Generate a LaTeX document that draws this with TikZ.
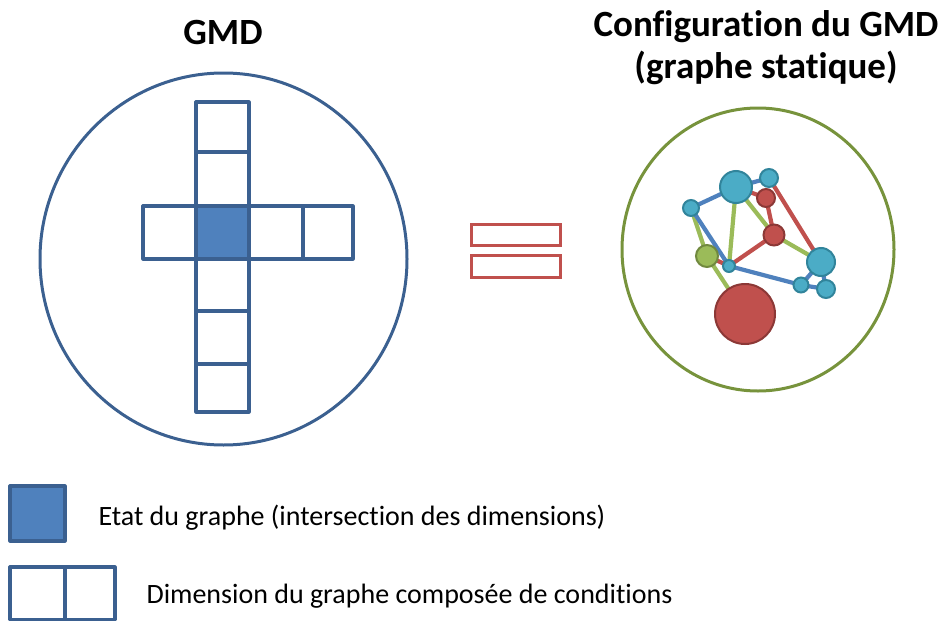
\documentclass[tikz,border=0pt]{standalone}
\usepackage{fontspec}
\setmainfont{Carlito}[Ligatures=NoCommon]
\usetikzlibrary{backgrounds}
\definecolor{dimblue}{HTML}{3B6090}
\definecolor{fillblue}{HTML}{4F81BD}
\definecolor{ringgreen}{HTML}{77933C}
\definecolor{eqred}{HTML}{C0504D}
\definecolor{tealf}{HTML}{4BACC6}
\definecolor{teald}{HTML}{31849B}
\definecolor{redf}{HTML}{C0504D}
\definecolor{redd}{HTML}{8C3836}
\definecolor{greenf}{HTML}{9BBB59}
\definecolor{greend}{HTML}{71893F}
\definecolor{edgeblue}{HTML}{4F81BD}
\definecolor{edgegreen}{HTML}{9BBB59}
\definecolor{edgered}{HTML}{C0504D}
\tikzset{
  cell/.style={draw=dimblue, line width=3.2pt, line join=round},
  tnode/.style={circle, draw=teald, fill=tealf, line width=2pt, inner sep=0pt},
  rnode/.style={circle, draw=redd, fill=redf, line width=2pt, inner sep=0pt},
  gnode/.style={circle, draw=greend, fill=greenf, line width=2pt, inner sep=0pt},
  eb/.style={draw=edgeblue, line width=4.2pt},
  eg/.style={draw=edgegreen, line width=4.2pt},
  er/.style={draw=edgered, line width=4.2pt},
  titletext/.style={font=\fontsize{37}{42}\selectfont\bfseries, align=center},
  legtext/.style={font=\fontsize{28}{32}\selectfont, anchor=base west}
}
\begin{document}
\begin{tikzpicture}[x=1pt,y=-1pt]
\useasboundingbox (0,0) rectangle (943,621);
% titles
\node[titletext, anchor=base] (t1) at (223,45) {GMD};
\node[titletext, anchor=base] (t2) at (766,36) {Configuration du GMD};
\node[titletext, anchor=base] (t3) at (766,78) {(graphe statique)};
% left ring
\draw[dimblue, line width=3pt] (223.5,259) ellipse [x radius=183.5, y radius=186];
% cross
\foreach \ya/\yb in {102/152,152/206,259/311,311/364,364/412}
  \draw[cell] (196,\ya) rectangle (249,\yb);
\foreach \xa/\xb in {143/196,249/303,303/353}
  \draw[cell] (\xa,206) rectangle (\xb,259);
\draw[cell, fill=fillblue] (196,206) rectangle (249,259);
% equals
\draw[eqred, line width=3pt] (471,224) rectangle (560,245);
\draw[eqred, line width=3pt] (471,255) rectangle (560,277);
% right ring
\draw[ringgreen, line width=3pt] (758,249.5) ellipse [x radius=136, y radius=141.5];
% graph nodes
\node[tnode, minimum size=32pt] (A) at (736,187) {};
\node[tnode, minimum size=18pt] (B) at (769,178) {};
\node[rnode, minimum size=18pt] (C) at (766,198) {};
\node[tnode, minimum size=16pt] (D) at (691,208) {};
\node[rnode, minimum size=21pt] (E) at (774,235) {};
\node[gnode, minimum size=22pt] (F) at (707,256) {};
\node[tnode, minimum size=12pt] (G) at (729,266) {};
\node[tnode, minimum size=28pt] (H) at (821,262) {};
\node[tnode, minimum size=15pt] (I) at (801,285) {};
\node[tnode, minimum size=18pt] (J) at (826,289) {};
\node[rnode, minimum size=60pt] (K) at (745,314) {};
\begin{pgfonlayer}{background}
\draw[eb] (A.center) -- (B.center);
\draw[er] (A.center) -- (C.center);
\draw[eb] (A.center) -- (D.center);
\draw[eg] (A.center) -- (G.center);
\draw[eg] (A.center) -- (E.center);
\draw[er] (B.center) -- (H.center);
\draw[er] (C.center) -- (E.center);
\draw[eg] (D.center) -- (F.center);
\draw[eb] (D.center) -- (G.center);
\draw[er] (F.center) -- (G.center);
\draw[er] (G.center) -- (E.center);
\draw[eg] (E.center) -- (H.center);
\draw[eb] (G.center) -- (I.center);
\draw[eb] (I.center) -- (H.center);
\draw[eb] (I.center) -- (J.center);
\draw[eb] (J.center) -- (H.center);
\draw[eg] (F.center) -- (K.center);
\end{pgfonlayer}
% legend
\draw[cell, fill=fillblue] (10,486) rectangle (65,541);
\node[legtext] (l1) at (95,525) {Etat du graphe (intersection des dimensions)};
\draw[cell] (10,567) rectangle (65,619.5);
\draw[cell] (65,567) rectangle (115,619.5);
\node[legtext] (l2) at (143,603) {Dimension du graphe composée de conditions};
\end{tikzpicture}
\end{document}
